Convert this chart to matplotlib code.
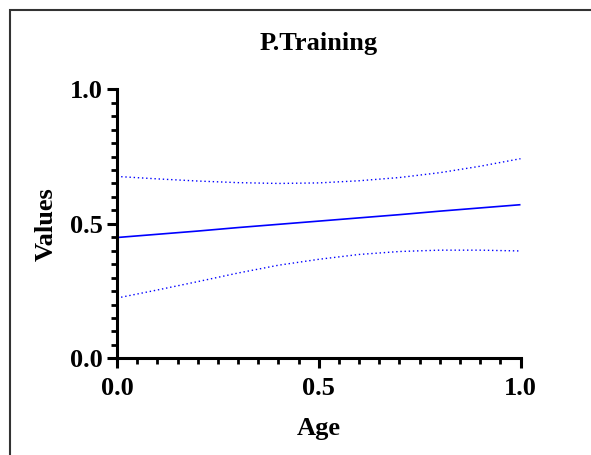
import matplotlib
matplotlib.use("Agg")
import matplotlib.pyplot as plt
from matplotlib.patches import Rectangle
from matplotlib.ticker import MultipleLocator

# Regression of P.Training on Age with confidence band
age = [0.0, 0.1, 0.2, 0.3, 0.4, 0.5, 0.6, 0.7, 0.8, 0.9, 1.0]
fit = [0.449, 0.461, 0.473, 0.486, 0.498, 0.510, 0.522, 0.534, 0.547, 0.559, 0.571]
upper = [0.676, 0.667, 0.659, 0.653, 0.650, 0.652, 0.660, 0.672, 0.690, 0.714, 0.742]
lower = [0.224, 0.254, 0.285, 0.317, 0.346, 0.368, 0.386, 0.397, 0.402, 0.402, 0.399]
x_ticks = [0.0, 0.5, 1.0]
y_ticks = [0.0, 0.5, 1.0]
tick_labels = ["0.0", "0.5", "1.0"]

plt.rcParams["font.family"] = ["Liberation Serif", "DejaVu Serif"]
plt.rcParams["font.weight"] = "bold"

FS = 19
fig = plt.figure(figsize=(5.91, 4.55), dpi=100)
W, H = 591, 455
x0, x1, y0, y1 = 117, 520.5, 358.3, 89.3
ax = fig.add_axes([x0 / W, 1 - y0 / H, (x1 - x0) / W, (y0 - y1) / H])

ax.plot(age, fit, color="#0000ff", lw=1.2, solid_capstyle="butt")
ax.plot(age, upper, color="#0000ff", lw=1.0, ls=(0, (1, 2)))
ax.plot(age, lower, color="#0000ff", lw=1.0, ls=(0, (1, 2)))

ax.set_xlim(0, 1)
ax.set_ylim(0, 1)
ax.set_xticks(x_ticks)
ax.set_xticklabels(tick_labels)
ax.set_yticks(y_ticks)
ax.set_yticklabels(tick_labels)
ax.xaxis.set_minor_locator(MultipleLocator(0.05))
ax.yaxis.set_minor_locator(MultipleLocator(0.05))

for side in ("top", "right"):
    ax.spines[side].set_visible(False)
for side in ("left", "bottom"):
    ax.spines[side].set_linewidth(2.2)
    ax.spines[side].set_capstyle("projecting")

ax.tick_params(which="major", direction="out", length=7.5, width=2.2,
               labelsize=FS)
ax.tick_params(axis="x", which="major", pad=6)
ax.tick_params(axis="y", which="major", pad=3)
ax.tick_params(which="minor", direction="out", length=4.5, width=2.0)
for lab in ax.get_xticklabels() + ax.get_yticklabels():
    lab.set_fontweight("bold")

ax.set_xlabel("Age", fontsize=FS, fontweight="bold")
ax.set_ylabel("Values", fontsize=FS, fontweight="bold")
ax.xaxis.label.set_va("center")
ax.yaxis.label.set_va("center")
ax.xaxis.set_label_coords(0.5, (y0 - 428) / (y0 - y1))
ax.yaxis.set_label_coords((46 - x0) / (x1 - x0), 0.5)

fig.text((x0 + x1) / 2 / W, 1 - 50 / H, "P.Training", ha="center", va="baseline",
         fontsize=FS, fontweight="bold")

# outer frame
fig.patches.append(Rectangle((10 / W, -0.2), 1.2, 1 - 10 / H + 0.2,
                             transform=fig.transFigure, fill=False,
                             edgecolor="#333333", lw=1.5))

fig.savefig("out.png", dpi=100)
